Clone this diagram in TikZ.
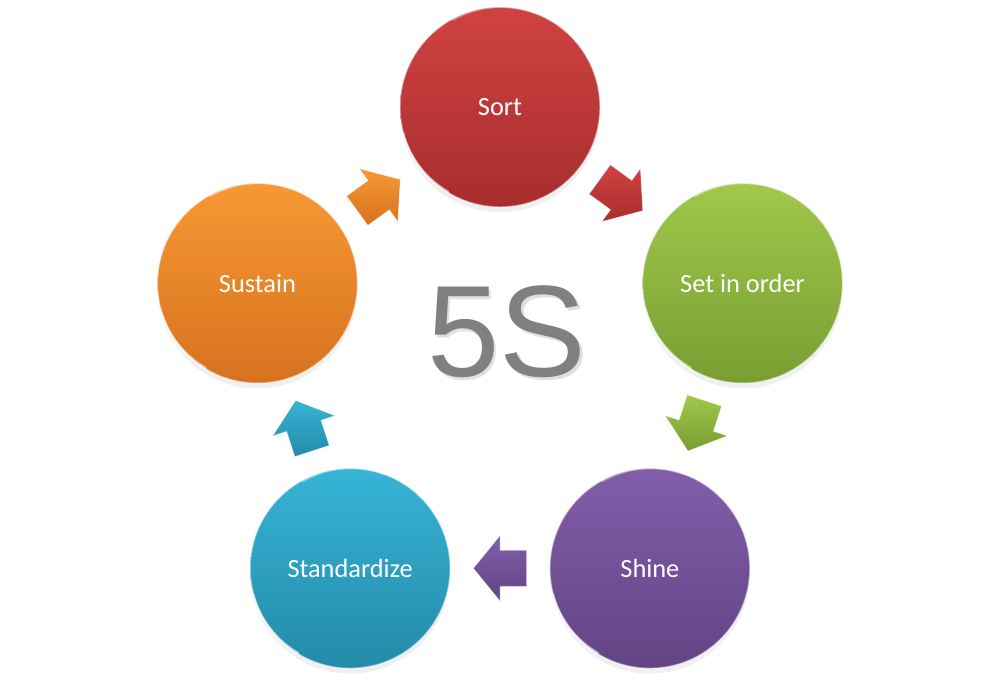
\documentclass[tikz,border=0pt]{standalone}
\usepackage{fontspec}
\setsansfont{Carlito}
\newfontfamily\titlefont{Liberation Sans}
\definecolor{sorttop}{RGB}{208, 66, 66}
\definecolor{sortbot}{RGB}{168, 45, 45}
\definecolor{settop}{RGB}{160, 200, 74}
\definecolor{setbot}{RGB}{120, 158, 50}
\definecolor{shinetop}{RGB}{130, 94, 170}
\definecolor{shinebot}{RGB}{98, 68, 132}
\definecolor{stdtop}{RGB}{54, 180, 214}
\definecolor{stdbot}{RGB}{36, 138, 168}
\definecolor{sustop}{RGB}{248, 152, 52}
\definecolor{susbot}{RGB}{214, 114, 30}
\definecolor{titlegray}{RGB}{128, 128, 128}
\usetikzlibrary{calc, shadows}

\begin{document}
\begin{tikzpicture}[
    stage/.style={circle, minimum size=4cm, inner sep=0pt, text=white,
                  font=\sffamily\fontsize{15}{18}\selectfont,
                  draw=white, draw opacity=0.45, line width=0.8pt,
                  drop shadow={opacity=0.12, shadow xshift=0pt, shadow yshift=-3pt}},
    flow/.style={draw=white, draw opacity=0.35, line width=0.4pt, line join=miter},
    rim/.style={white, opacity=0.55, line width=1.6pt, line cap=round}
  ]
    \useasboundingbox (0,0) rectangle (20,-13.7);
    \coordinate (hub) at (10,-7.24);

    % the five stages
    \node[stage, top color=sorttop, bottom color=sortbot]   (sort) at ($(hub)+(90:5.1)$)   {Sort};
    \node[stage, top color=settop, bottom color=setbot]     (set)  at ($(hub)+(18:5.1)$)   {Set in order};
    \node[stage, top color=shinetop, bottom color=shinebot] (shine) at ($(hub)+(-54:5.1)$) {Shine};
    \node[stage, top color=stdtop, bottom color=stdbot]     (std)  at ($(hub)+(-126:5.1)$) {Standardize};
    \node[stage, top color=sustop, bottom color=susbot]     (sus)  at ($(hub)+(162:5.1)$)  {Sustain};

    % rim highlights
    \foreach \s in {sort, set, shine, std, sus} {
      \draw[rim] (\s.195) arc[start angle=195, end angle=240, radius=1.94cm];
      \draw[rim, opacity=0.3] (\s.70) arc[start angle=70, end angle=120, radius=1.94cm];
    }

    % block arrows between stages
    \foreach \from/\to/\ang/\ctop/\cbot in {sort/set/-36/sorttop/sortbot, set/shine/-108/settop/setbot,
        shine/std/180/shinetop/shinebot, std/sus/108/stdtop/stdbot, sus/sort/36/sustop/susbot} {
      \path[flow, top color=\ctop, bottom color=\cbot, shift={($(\from)!0.5!(\to)$)}, rotate=\ang]
        (-0.53,-0.36) -- (0,-0.36) -- (0,-0.65) -- (0.53,0) -- (0,0.65) -- (0,0.36) -- (-0.53,0.36) -- cycle;
    }

    % centre title
    \node[inner sep=0pt, text=black!12, font=\titlefont\fontsize{74}{80}\selectfont] (titleshade) at (10.19,-6.69) {5S};
    \node[inner sep=0pt, text=titlegray, font=\titlefont\fontsize{74}{80}\selectfont] (title) at (10.14,-6.64) {5S};
\end{tikzpicture}
\end{document}
